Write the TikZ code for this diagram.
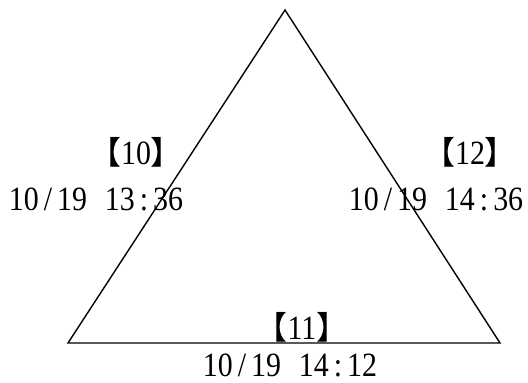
\documentclass[tikz,border=0pt]{standalone}
\usepackage{fontspec}
\setmainfont[FakeStretch=0.88]{Liberation Serif}
\newfontfamily\cjkfont{Noto Sans CJK JP}
\usetikzlibrary{positioning}
\newcommand{\tagno}[1]{{\cjkfont\fontsize{16pt}{18pt}\selectfont 【}#1{\cjkfont\fontsize{16pt}{18pt}\selectfont 】}}
\newcommand{\stamp}[3]{#1\kern2.5pt/\kern2.5pt#2\hspace{9pt}#3}
\newcommand{\hm}[2]{#1\kern2.5pt:\kern2.5pt#2}

\begin{document}
\begin{tikzpicture}[
  x=0.5pt,y=-0.5pt,
  edge/.style={line width=0.7pt,line join=miter},
  tag/.style={anchor=base,inner sep=0pt,font=\fontsize{17pt}{20pt}\selectfont},
  when/.style={tag}]
\useasboundingbox (0,0) rectangle (528,383);
% corners
\coordinate (top) at (285,10);
\coordinate (left) at (68,343);
\coordinate (right) at (500,343);
\draw[edge] (top) -- (left) -- (right) -- cycle;
% labels
\node[tag] (t10) at (136,165) {\tagno{10}};
\node[when] (w10) at (96,211) {\stamp{10}{19}{\hm{13}{36}}};
\node[tag] (t12) at (470,165) {\tagno{12}};
\node[when] (w12) at (436,211) {\stamp{10}{19}{\hm{14}{36}}};
\node[tag] (t11) at (302,340) {\tagno{11}};
\node[when] (w11) at (290,377) {\stamp{10}{19}{\hm{14}{12}}};
\end{tikzpicture}
\end{document}
